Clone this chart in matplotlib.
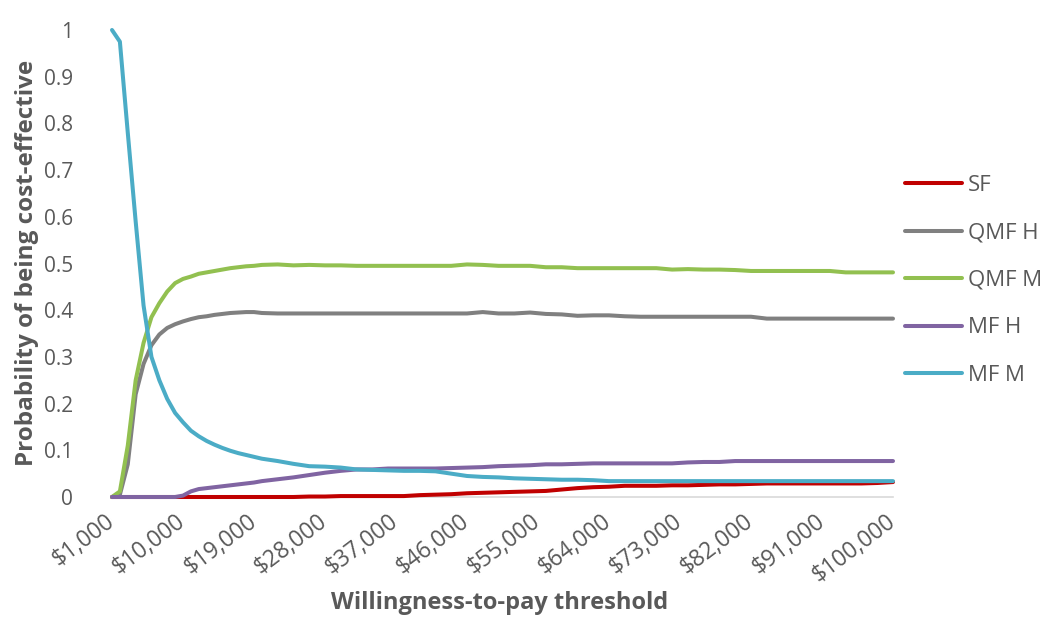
import matplotlib.pyplot as plt

plt.rcParams['font.family'] = ['Open Sans', 'DejaVu Sans']

# willingness-to-pay threshold, in $1,000
wtp = list(range(1, 21)) + list(range(22, 101, 2))

sf = [0] * 20 + [0, 0, 0.001, 0.001, 0.002, 0.002, 0.002, 0.002, 0.002, 0.004,
                 0.005, 0.006, 0.008, 0.009, 0.010, 0.011, 0.012, 0.013, 0.016, 0.019,
                 0.021, 0.022, 0.024, 0.024, 0.024, 0.025, 0.025, 0.026, 0.027, 0.027,
                 0.028, 0.029, 0.029, 0.029, 0.029, 0.029, 0.029, 0.029, 0.030, 0.032]

qmf_h = [0, 0.005, 0.07, 0.22, 0.285, 0.325, 0.348, 0.362, 0.370, 0.376,
         0.381, 0.385, 0.387, 0.390, 0.392, 0.394, 0.395, 0.396, 0.396, 0.394,
         0.393, 0.393, 0.393, 0.393, 0.393, 0.393, 0.393, 0.393, 0.393, 0.393,
         0.393, 0.393, 0.393, 0.396, 0.393, 0.393, 0.395, 0.392, 0.391, 0.388,
         0.389, 0.389, 0.387, 0.386, 0.386, 0.386, 0.386, 0.386, 0.386, 0.386,
         0.386, 0.382, 0.382, 0.382, 0.382, 0.382, 0.382, 0.382, 0.382, 0.382]

qmf_m = [0, 0.012, 0.11, 0.25, 0.33, 0.385, 0.415, 0.440, 0.458, 0.467,
         0.472, 0.478, 0.481, 0.484, 0.487, 0.490, 0.492, 0.494, 0.495, 0.497,
         0.498, 0.496, 0.497, 0.496, 0.496, 0.495, 0.495, 0.495, 0.495, 0.495,
         0.495, 0.495, 0.498, 0.497, 0.495, 0.495, 0.495, 0.492, 0.492, 0.490,
         0.490, 0.490, 0.490, 0.490, 0.490, 0.487, 0.488, 0.487, 0.487, 0.486,
         0.484, 0.484, 0.484, 0.484, 0.484, 0.484, 0.481, 0.481, 0.481, 0.481]

mf_h = [0, 0, 0, 0, 0, 0, 0, 0, 0, 0.003,
        0.012, 0.017, 0.019, 0.021, 0.023, 0.025, 0.027, 0.029, 0.031, 0.034,
        0.038, 0.042, 0.047, 0.052, 0.056, 0.059, 0.059, 0.061, 0.061, 0.061,
        0.061, 0.062, 0.063, 0.064, 0.066, 0.067, 0.068, 0.070, 0.070, 0.071,
        0.072, 0.072, 0.072, 0.072, 0.072, 0.072, 0.074, 0.075, 0.075, 0.077,
        0.077, 0.077, 0.077, 0.077, 0.077, 0.077, 0.077, 0.077, 0.077, 0.077]

mf_m = [1.0, 0.975, 0.78, 0.59, 0.41, 0.30, 0.25, 0.21, 0.18, 0.16,
        0.142, 0.130, 0.120, 0.112, 0.105, 0.099, 0.094, 0.090, 0.086, 0.082,
        0.077, 0.071, 0.066, 0.065, 0.063, 0.059, 0.058, 0.057, 0.056, 0.056,
        0.055, 0.050, 0.045, 0.043, 0.042, 0.040, 0.039, 0.038, 0.037, 0.037,
        0.036, 0.034, 0.034, 0.034, 0.034, 0.034, 0.034, 0.034, 0.034, 0.034,
        0.034, 0.034, 0.034, 0.034, 0.034, 0.034, 0.034, 0.034, 0.034, 0.034]

series_names = ['SF', 'QMF H', 'QMF M', 'MF H', 'MF M']
series_values = [sf, qmf_h, qmf_m, mf_h, mf_m]
series_colors = ['#C00000', '#808080', '#92C050', '#8064A2', '#4BACC6']

tick_pos = list(range(1, 101, 9))
tick_labels = [f"${k * 1000:,}" for k in tick_pos]
y_ticks = [0, 0.1, 0.2, 0.3, 0.4, 0.5, 0.6, 0.7, 0.8, 0.9, 1]
y_labels = ['0', '0.1', '0.2', '0.3', '0.4', '0.5', '0.6', '0.7', '0.8', '0.9', '1']

text_color = '#595959'

fig = plt.figure(figsize=(10.49, 6.18), dpi=100)
ax = fig.add_axes([112 / 1049, 1 - 497 / 618, (893 - 112) / 1049, (497 - 30) / 618])

for name, vals, col in zip(series_names, series_values, series_colors):
    ax.plot(wtp, vals, color=col, linewidth=2.9, label=name, clip_on=False,
            solid_capstyle='round', zorder=3)

ax.set_xlim(1, 100)
ax.set_ylim(0, 1)

for side in ['top', 'right', 'left']:
    ax.spines[side].set_visible(False)
ax.spines['bottom'].set_color('#D9D9D9')
ax.spines['bottom'].set_linewidth(1.2)

ax.set_yticks(y_ticks)
ax.set_yticklabels(y_labels)
ax.set_xticks(tick_pos)
ax.set_xticklabels(tick_labels, rotation=37, ha='right', va='center',
                   rotation_mode='anchor')
ax.tick_params(axis='y', length=0, pad=28, labelsize=15, labelcolor=text_color)
ax.tick_params(axis='x', length=0, pad=16, labelsize=16.5, labelcolor=text_color)

fig.text(500 / 1049, 1 - 603 / 618, 'Willingness-to-pay threshold', fontsize=17,
         fontweight='bold', color=text_color, ha='center', va='center')
fig.text(27 / 1049, 1 - 263 / 618, 'Probability of being cost-effective', fontsize=17.5,
         fontweight='bold', color=text_color, ha='center', va='center', rotation=90)

ax.legend(loc='upper left', bbox_to_anchor=(885 / 1049, 1 - 155 / 618),
          bbox_transform=fig.transFigure, frameon=False, fontsize=16,
          labelcolor=text_color, handlelength=2.57, handletextpad=0.27,
          labelspacing=1.19)

fig.savefig('out.png', dpi=100)
